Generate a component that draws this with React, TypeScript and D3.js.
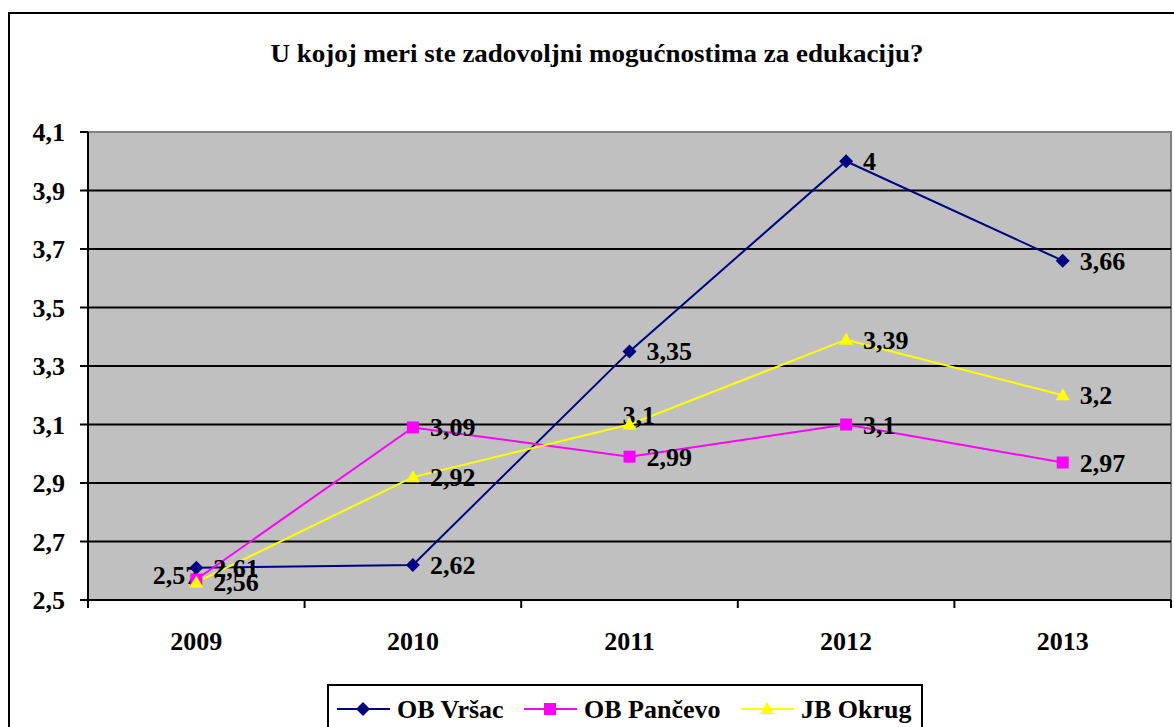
import React, { useEffect, useRef } from 'react'
import * as d3 from 'd3'

const years = ['2009', '2010', '2011', '2012', '2013']
const yTicks = [2.5, 2.7, 2.9, 3.1, 3.3, 3.5, 3.7, 3.9, 4.1]
const seriesNames = ['OB Vršac', 'OB Pančevo', 'JB Okrug']
const vrsac = [2.61, 2.62, 3.35, 4, 3.66]
const pancevo = [2.57, 3.09, 2.99, 3.1, 2.97]
const okrug = [2.56, 2.92, 3.1, 3.39, 3.2]
const colors = ['#000080', '#FF00FF', '#FFFF00']
const shapes = ['diamond', 'square', 'triangle']
const title = 'U kojoj meri ste zadovoljni mogućnostima za edukaciju?'

const W = 1174
const H = 727
const FONT = '"Liberation Serif", "Times New Roman", serif'

const fmt = (v: number) => String(v).replace('.', ',')

const symbolPath = (shape: string) => {
    if (shape === 'diamond') return 'M0,-7L7,0L0,7L-7,0Z'
    if (shape === 'square') return 'M-6,-6H6V6H-6Z'
    return 'M0,-7L7,5L-7,5Z'
}

const App = () => {
    const ref = useRef<SVGSVGElement>(null)

    useEffect(() => {
        const svg = d3.select(ref.current)
        svg.selectAll('*').remove()

        const data = [vrsac, pancevo, okrug]
        const left = 88, right = 1171, top = 132, bottom = 600

        const x = d3.scaleBand().domain(years).range([left, right]).padding(0)
        const y = d3.scaleLinear().domain([2.5, 4.1]).range([bottom, top])
        const cx = (i: number) => x(years[i])! + x.bandwidth() / 2

        // outer chart frame (runs off the page on right/bottom)
        svg.append('rect')
            .attr('x', 9).attr('y', 13)
            .attr('width', 1200).attr('height', 760)
            .attr('fill', '#fff').attr('stroke', '#000').attr('stroke-width', 2)

        svg.append('text')
            .attr('x', 597).attr('y', 62)
            .attr('text-anchor', 'middle')
            .attr('font-family', FONT).attr('font-weight', 'bold').attr('font-size', 26)
            .attr('textLength', 653).attr('lengthAdjust', 'spacingAndGlyphs')
            .text(title)

        // plot area
        svg.append('rect')
            .attr('x', left).attr('y', top)
            .attr('width', right - left).attr('height', bottom - top)
            .attr('fill', '#C0C0C0').attr('stroke', '#808080').attr('stroke-width', 2)

        yTicks.slice(1, -1).forEach(t => {
            svg.append('line')
                .attr('x1', left).attr('x2', right)
                .attr('y1', y(t)).attr('y2', y(t))
                .attr('stroke', '#000').attr('stroke-width', 2)
        })

        // axes
        svg.append('line')
            .attr('x1', left).attr('x2', left).attr('y1', top).attr('y2', bottom)
            .attr('stroke', '#000').attr('stroke-width', 2)
        svg.append('line')
            .attr('x1', left).attr('x2', right).attr('y1', bottom).attr('y2', bottom)
            .attr('stroke', '#000').attr('stroke-width', 2)

        yTicks.forEach(t => {
            svg.append('line')
                .attr('x1', left - 8).attr('x2', left)
                .attr('y1', y(t)).attr('y2', y(t))
                .attr('stroke', '#000').attr('stroke-width', 2)
            svg.append('text')
                .attr('x', 65).attr('y', y(t) + 9)
                .attr('text-anchor', 'end')
                .attr('font-family', FONT).attr('font-weight', 'bold').attr('font-size', 26)
                .text(fmt(t))
        })

        const bounds = years.map(yr => x(yr)!).concat([right])
        bounds.forEach(b => {
            svg.append('line')
                .attr('x1', b).attr('x2', b).attr('y1', bottom).attr('y2', bottom + 8)
                .attr('stroke', '#000').attr('stroke-width', 2)
        })

        years.forEach((yr, i) => {
            svg.append('text')
                .attr('x', cx(i)).attr('y', 650)
                .attr('text-anchor', 'middle')
                .attr('font-family', FONT).attr('font-weight', 'bold').attr('font-size', 26)
                .text(yr)
        })

        const line = d3.line<number>().x((d, i) => cx(i)).y(d => y(d))

        data.forEach((s, si) => {
            svg.append('path')
                .attr('d', line(s))
                .attr('fill', 'none')
                .attr('stroke', colors[si]).attr('stroke-width', 2)
        })

        // data labels
        data.forEach((s, si) => {
            s.forEach((v, i) => {
                let lx = cx(i) + 17, ly = y(v) + 9, anchor = 'start'
                if (si === 1 && i === 0) { lx = cx(i) + 2; ly = y(v) + 4; anchor = 'end' }
                if (si === 2 && i === 2) { lx = cx(i) - 7; ly = y(v) - 1 }
                svg.append('text')
                    .attr('x', lx).attr('y', ly)
                    .attr('text-anchor', anchor)
                    .attr('font-family', FONT).attr('font-weight', 'bold').attr('font-size', 26)
                    .text(fmt(v))
            })
        })

        data.forEach((s, si) => {
            s.forEach((v, i) => {
                svg.append('path')
                    .attr('d', symbolPath(shapes[si]))
                    .attr('transform', `translate(${cx(i)},${y(v)})`)
                    .attr('fill', colors[si])
            })
        })

        // legend
        svg.append('rect')
            .attr('x', 328).attr('y', 685)
            .attr('width', 594).attr('height', 60)
            .attr('fill', '#fff').attr('stroke', '#000').attr('stroke-width', 2)

        const legendX = [337, 524, 741]
        seriesNames.forEach((name, si) => {
            const lx = legendX[si]
            svg.append('line')
                .attr('x1', lx).attr('x2', lx + 53).attr('y1', 709).attr('y2', 709)
                .attr('stroke', colors[si]).attr('stroke-width', 2)
            svg.append('path')
                .attr('d', symbolPath(shapes[si]))
                .attr('transform', `translate(${lx + 26},709)`)
                .attr('fill', colors[si])
            svg.append('text')
                .attr('x', lx + 60).attr('y', 718)
                .attr('font-family', FONT).attr('font-weight', 'bold').attr('font-size', 26)
                .text(name)
        })
    }, [])

    return (
        <div style={{ position: 'absolute', left: 0, top: 0, width: W, height: H, overflow: 'hidden' }}>
            <svg ref={ref} width={W} height={H} style={{ display: 'block' }} />
        </div>
    )
}

export default App
